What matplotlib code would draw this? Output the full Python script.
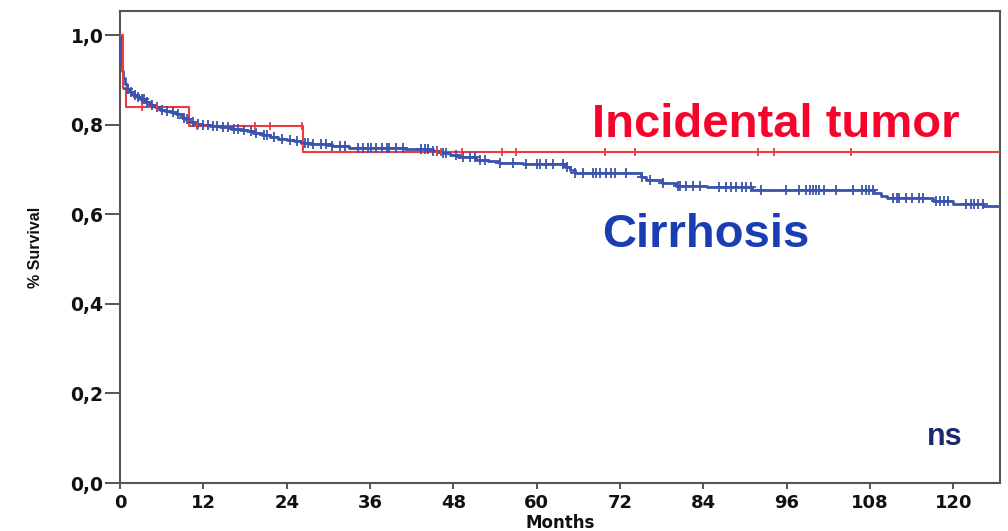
import numpy as np
import matplotlib.pyplot as plt

# Kaplan-Meier survival: step points (months, survival) and censored times
cirr_t = [0, 0.1, 0.3, 0.5, 0.7, 1.0, 1.4, 1.9, 2.4, 2.9, 3.6, 4.3, 5.0, 5.8, 6.5,
          7.2, 8.0, 8.6, 9.0, 9.4, 10.1, 10.8, 11.5, 13.0, 14.4, 16.0, 17.3, 18.3,
          19.2, 20.4, 21.6, 22.8, 24.0, 25.0, 26.1, 27.3, 28.5, 30.5, 33.0, 41.0,
          45.0, 46.3, 47.5, 48.7, 51.3, 53.0, 54.5, 58.0, 64.0, 64.8, 65.5, 75.0,
          75.8, 78.0, 80.0, 84.5, 91.0, 108.5, 109.5, 110.5, 117.0, 120.0, 124.3]
cirr_s = [1.0, 0.935, 0.92, 0.905, 0.89, 0.88, 0.873, 0.866, 0.861, 0.857, 0.851,
          0.844, 0.839, 0.834, 0.831, 0.829, 0.825, 0.821, 0.816, 0.812, 0.806,
          0.802, 0.799, 0.797, 0.794, 0.791, 0.789, 0.786, 0.782, 0.778, 0.773,
          0.769, 0.766, 0.763, 0.760, 0.758, 0.756, 0.752, 0.748, 0.745, 0.741,
          0.737, 0.733, 0.728, 0.722, 0.718, 0.715, 0.712, 0.705, 0.699, 0.693,
          0.684, 0.676, 0.670, 0.664, 0.660, 0.655, 0.648, 0.642, 0.636, 0.629,
          0.624, 0.618]
cirr_cens = [1.2, 1.6, 2.1, 2.6, 3.1, 3.4, 3.9, 4.6, 5.3, 6.1, 6.8, 7.6, 8.3, 9.2,
             9.7, 10.5, 11.2, 12.0, 12.6, 13.4, 14.0, 14.8, 15.5, 16.4, 17.0, 17.8,
             18.8, 19.6, 20.8, 21.2, 22.2, 23.3, 24.5, 25.5, 26.6, 27.0,
             27.8, 29.0, 29.7, 30.5, 31.7, 32.4, 34.3, 35.0, 35.7, 36.2, 36.9, 37.7,
             38.4, 38.8, 39.8, 40.8, 43.4, 43.9, 44.4, 45.1, 45.6, 46.5, 47.0, 48.4,
             49.4, 50.4, 51.1, 51.8, 52.5, 54.7, 56.6, 58.5, 60.0, 60.4, 61.4, 62.3,
             63.8, 64.3, 65.5, 66.7, 68.1, 68.6, 69.1, 70.0, 70.7, 71.2, 72.9, 75.1,
             76.3, 78.2, 80.3, 80.6, 81.5, 82.5, 83.5, 86.3, 87.3, 88.0, 88.7, 89.5,
             90.2, 90.9, 92.3, 95.9, 97.8, 98.8, 99.3, 99.8, 100.2, 100.7, 101.4,
             103.1, 105.5, 106.9, 107.4, 107.9, 108.4, 111.3, 111.8, 112.2, 113.2,
             114.1, 115.1, 115.6, 117.5, 118.0, 118.7, 119.2, 121.8, 122.5, 123.0,
             123.5, 124.2]

inc_t = [0, 0.4, 0.8, 9.9, 26.4]
inc_s = [1.0, 0.882, 0.839, 0.797, 0.739]
inc_cens = [3.2, 5.3, 11.1, 19.5, 21.6, 26.2, 45.7, 46.2, 49.3, 55.0, 57.0,
            69.8, 74.1, 91.9, 94.2, 105.3]

x_ticks = [0, 12, 24, 36, 48, 60, 72, 84, 96, 108, 120]
y_ticks = [0.0, 0.2, 0.4, 0.6, 0.8, 1.0]
y_ticklabels = ['0,0', '0,2', '0,4', '0,6', '0,8', '1,0']

XMAX = 126.7
RED = '#ef3b40'
BLUE = '#3a54ad'


def km_curve(ax, t, s, cens, color, lw, marker, ms):
    t = np.asarray(t, float)
    s = np.asarray(s, float)
    tt = np.append(t, XMAX)
    ss = np.append(s, s[-1])
    ax.step(tt, ss, where='post', color=color, lw=lw, zorder=3)
    c = np.asarray(cens, float)
    idx = np.searchsorted(t, c, side='right') - 1
    ax.plot(c, s[idx], ls='none', marker=marker, ms=ms, mew=1.3, color=color, zorder=4)


fig = plt.figure(figsize=(10.08, 5.31), dpi=100)
ax = fig.add_axes([120 / 1008, 48 / 531, 880 / 1008, 472 / 531])

km_curve(ax, cirr_t, cirr_s, cirr_cens, BLUE, 2.0, '+', 6.5)
km_curve(ax, inc_t, inc_s, inc_cens, RED, 1.5, '|', 6)

ax.set_xlim(0, XMAX)
ax.set_ylim(0, 1.054)
ax.set_xticks(x_ticks)
ax.set_yticks(y_ticks)
ax.set_yticklabels(y_ticklabels)

for sp in ax.spines.values():
    sp.set_color('#555555')
    sp.set_linewidth(1.5)

ax.tick_params(axis='y', length=11, width=1.4, pad=1, color='#555555')
ax.tick_params(axis='x', length=4.5, width=1.4, pad=3.5, color='#555555')
for lab in ax.get_yticklabels():
    lab.set_fontsize(13.5)
for lab in ax.get_xticklabels():
    lab.set_fontsize(13)
for lab in ax.get_xticklabels() + ax.get_yticklabels():
    lab.set_fontfamily('DejaVu Sans')
    lab.set_fontweight('bold')
    lab.set_color('#111111')

ax.set_ylabel('% Survival', fontfamily='Liberation Sans', fontsize=11.5,
              fontweight='bold', color='#111111')
ax.yaxis.set_label_coords(-0.088, 0.5)
ax.set_xlabel('Months', fontfamily='DejaVu Sans', fontweight='bold',
              fontsize=12, color='#111111')
ax.xaxis.set_label_coords(0.5, -0.066)

ax.text(67.9, 0.772, 'Incidental tumor', color='#f5052c', fontsize=34,
        fontweight='bold', fontfamily='Liberation Sans', va='baseline')
ax.text(69.4, 0.527, 'Cirrhosis', color='#1a3db4', fontsize=34,
        fontweight='bold', fontfamily='Liberation Sans', va='baseline')
ax.text(121.3, 0.085, 'ns', color='#1b2a6b', fontsize=22,
        fontweight='bold', fontfamily='Liberation Sans', va='baseline', ha='right')

fig.savefig('out.png', dpi=100)
